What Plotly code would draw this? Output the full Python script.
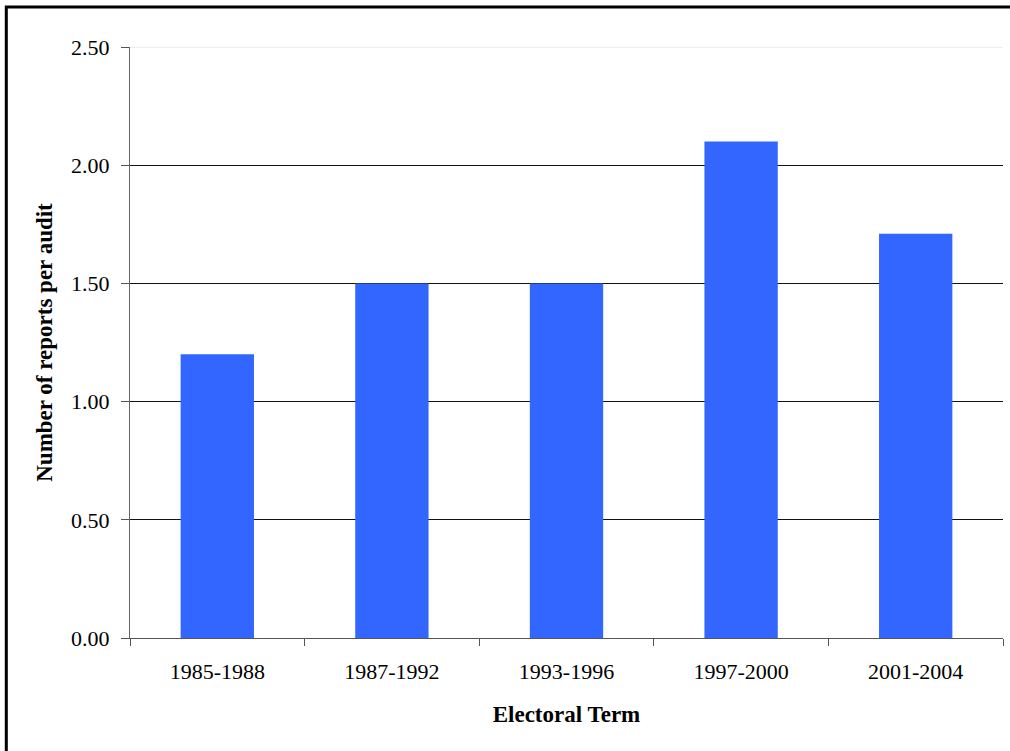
import plotly.graph_objects as go

# Average number of reports per audit, by electoral term
terms = ["1985-1988", "1987-1992", "1993-1996", "1997-2000", "2001-2004"]
reports_per_audit = [1.20, 1.50, 1.50, 2.10, 1.71]
y_tick_values = [0.0, 0.5, 1.0, 1.5, 2.0, 2.5]
y_tick_labels = ["0.00", "0.50", "1.00", "1.50", "2.00", "2.50"]

W, H = 1010, 751
ML, MR, MT, MB = 130, 7, 47, 113
PW, PH = W - ML - MR, H - MT - MB

SERIF = "Liberation Serif"

fig = go.Figure(
    go.Bar(
        x=terms,
        y=reports_per_audit,
        marker=dict(color="#3366FF", line=dict(width=0)),
        hoverinfo="x+y",
    )
)


def px_to_paper_x(px):
    return (px - ML) / PW


def px_to_paper_y(py):
    return (H - MB - py) / PH


fig.update_layout(
    width=W,
    height=H,
    margin=dict(l=ML, r=MR, t=MT, b=MB, pad=0),
    paper_bgcolor="white",
    plot_bgcolor="white",
    bargap=0.58,
    showlegend=False,
    font=dict(family=SERIF, size=22, color="black"),
    xaxis=dict(
        showline=True,
        linecolor="#555555",
        linewidth=1,
        ticks="outside",
        tickson="boundaries",
        ticklen=7,
        tickcolor="#555555",
        ticklabelstandoff=14,
        tickfont=dict(family=SERIF, size=22, color="black"),
        showgrid=False,
        title=dict(
            text="<b>Electoral Term</b>",
            font=dict(family=SERIF, size=23, color="black"),
            standoff=22,
        ),
    ),
    yaxis=dict(
        range=[0, 2.5],
        tickvals=y_tick_values,
        ticktext=y_tick_labels,
        showline=True,
        linecolor="#666666",
        linewidth=1,
        ticks="outside",
        ticklen=8,
        tickcolor="#555555",
        ticklabelstandoff=7,
        tickfont=dict(family=SERIF, size=22, color="black"),
        showgrid=True,
        gridcolor="#111111",
        gridwidth=1,
        zeroline=False,
        title=dict(
            text="<b>Number of reports per audit</b>",
            font=dict(family=SERIF, size=23, color="black"),
            standoff=12,
        ),
    ),
    shapes=[
        # faint top boundary of the plot area
        dict(
            type="line", xref="paper", yref="y",
            x0=0, x1=1, y0=2.5, y1=2.5,
            line=dict(color="#dddddd", width=1),
        ),
        # frame around the chart
        dict(
            type="rect", xref="paper", yref="paper",
            x0=px_to_paper_x(6.3), x1=px_to_paper_x(1030),
            y0=px_to_paper_y(780), y1=px_to_paper_y(7),
            line=dict(color="black", width=3),
            fillcolor="rgba(0,0,0,0)",
        ),
    ],
)

fig.write_html("out.html")
